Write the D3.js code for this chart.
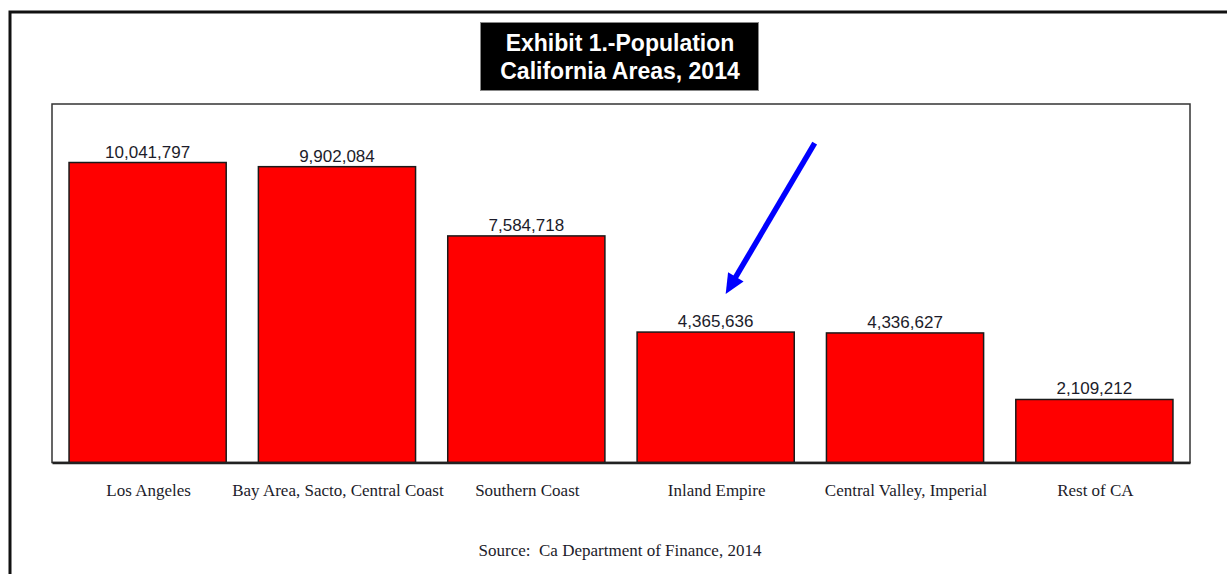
<!DOCTYPE html>
<html>
<head>
<meta charset="utf-8">
<script src="https://cdn.jsdelivr.net/npm/d3@7"></script>
<style>
  html, body { margin: 0; padding: 0; background: #fff; }
  svg { display: block; }
</style>
</head>
<body>
<svg id="chart" width="1227" height="574"></svg>
<script>
// Population by California area, 2014
const categories = [
  "Los Angeles",
  "Bay Area, Sacto, Central Coast",
  "Southern Coast",
  "Inland Empire",
  "Central Valley, Imperial",
  "Rest of CA"
];
const population = [10041797, 9902084, 7584718, 4365636, 4336627, 2109212];
const titleLines = ["Exhibit 1.-Population", "California Areas, 2014"];
const sourceNote = "Source:  Ca Department of Finance, 2014";
const highlighted = "Inland Empire";

const data = categories.map((c, i) => ({ name: c, value: population[i] }));

const svg = d3.select("#chart");

// page border (open towards the right and bottom edges)
svg.append("rect")
  .attr("x", 10).attr("y", 12)
  .attr("width", 1240).attr("height", 600)
  .attr("fill", "none")
  .attr("stroke", "#111")
  .attr("stroke-width", 3);

// plot area
const plot = { left: 52, right: 1190, top: 104, bottom: 462.5 };

const x = d3.scaleBand()
  .domain(categories)
  .range([plot.left, plot.right])
  .paddingInner(0.17)
  .paddingOuter(0.09);

const y = d3.scaleLinear()
  .domain([0, 12000000])
  .range([plot.bottom, plot.top]);

// frame
svg.append("rect")
  .attr("x", plot.left).attr("y", plot.top)
  .attr("width", plot.right - plot.left)
  .attr("height", plot.bottom - plot.top)
  .attr("fill", "#fff")
  .attr("stroke", "#333")
  .attr("stroke-width", 1.5);

// bars
svg.append("g")
  .selectAll("rect")
  .data(data)
  .join("rect")
  .attr("x", d => x(d.name))
  .attr("y", d => y(d.value))
  .attr("width", x.bandwidth())
  .attr("height", d => y(0) - y(d.value))
  .attr("fill", "#ff0000")
  .attr("stroke", "#1a1a1a")
  .attr("stroke-width", 1.5);

// baseline axis (no ticks)
const xAxis = d3.axisBottom(x).tickSize(0).tickPadding(0).tickFormat("");
const axisG = svg.append("g")
  .attr("transform", `translate(0,${plot.bottom})`)
  .call(xAxis);
axisG.select(".domain")
  .attr("stroke", "#222")
  .attr("stroke-width", 2.5);

// category labels
svg.append("g")
  .selectAll("text")
  .data(data)
  .join("text")
  .attr("x", d => x(d.name) + x.bandwidth() / 2 + 1)
  .attr("y", 496)
  .attr("text-anchor", "middle")
  .attr("font-family", "'Liberation Serif', 'Times New Roman', serif")
  .attr("font-size", 17)
  .attr("fill", "#1c1c2a")
  .text(d => d.name);

// value labels
const fmt = d3.format(",");
svg.append("g")
  .selectAll("text")
  .data(data)
  .join("text")
  .attr("x", d => x(d.name) + x.bandwidth() / 2)
  .attr("y", d => y(d.value) - 5)
  .attr("text-anchor", "middle")
  .attr("font-family", "'Liberation Sans', Arial, sans-serif")
  .attr("font-size", 17)
  .attr("fill", "#1c1c2a")
  .text(d => fmt(d.value));

// title box
const title = svg.append("g");
title.append("rect")
  .attr("x", 480.5).attr("y", 22.5)
  .attr("width", 278).attr("height", 68)
  .attr("fill", "#000")
  .attr("stroke", "#888")
  .attr("stroke-width", 1);
title.selectAll("text")
  .data(titleLines)
  .join("text")
  .attr("x", 620)
  .attr("y", (d, i) => 51 + i * 27.5)
  .attr("text-anchor", "middle")
  .attr("font-family", "'Liberation Sans', Arial, sans-serif")
  .attr("font-weight", "bold")
  .attr("font-size", 23)
  .attr("fill", "#fff")
  .text(d => d);

// source note
svg.append("text")
  .attr("x", 620)
  .attr("y", 556)
  .attr("text-anchor", "middle")
  .attr("font-family", "'Liberation Serif', 'Times New Roman', serif")
  .attr("font-size", 17)
  .attr("fill", "#1c1c2a")
  .style("white-space", "pre")
  .text(sourceNote);

// arrow pointing at the highlighted area
const hi = data.find(d => d.name === highlighted);
const tip = [x(hi.name) + x.bandwidth() / 2 + 10, y(hi.value) - 38];
const tail = [tip[0] + 89, tip[1] - 151];
const ang = Math.atan2(tip[1] - tail[1], tip[0] - tail[0]);
const headLen = 20, headHalf = 9;
const base = [tip[0] - headLen * Math.cos(ang), tip[1] - headLen * Math.sin(ang)];
const nx = -Math.sin(ang), ny = Math.cos(ang);

svg.append("line")
  .attr("x1", tail[0]).attr("y1", tail[1])
  .attr("x2", base[0] + 3 * Math.cos(ang)).attr("y2", base[1] + 3 * Math.sin(ang))
  .attr("stroke", "#0000ff")
  .attr("stroke-width", 5.5);
svg.append("path")
  .attr("d", d3.line()([
    tip,
    [base[0] + nx * headHalf, base[1] + ny * headHalf],
    [base[0] - nx * headHalf, base[1] - ny * headHalf]
  ]) + "Z")
  .attr("fill", "#0000ff");
</script>
</body>
</html>
